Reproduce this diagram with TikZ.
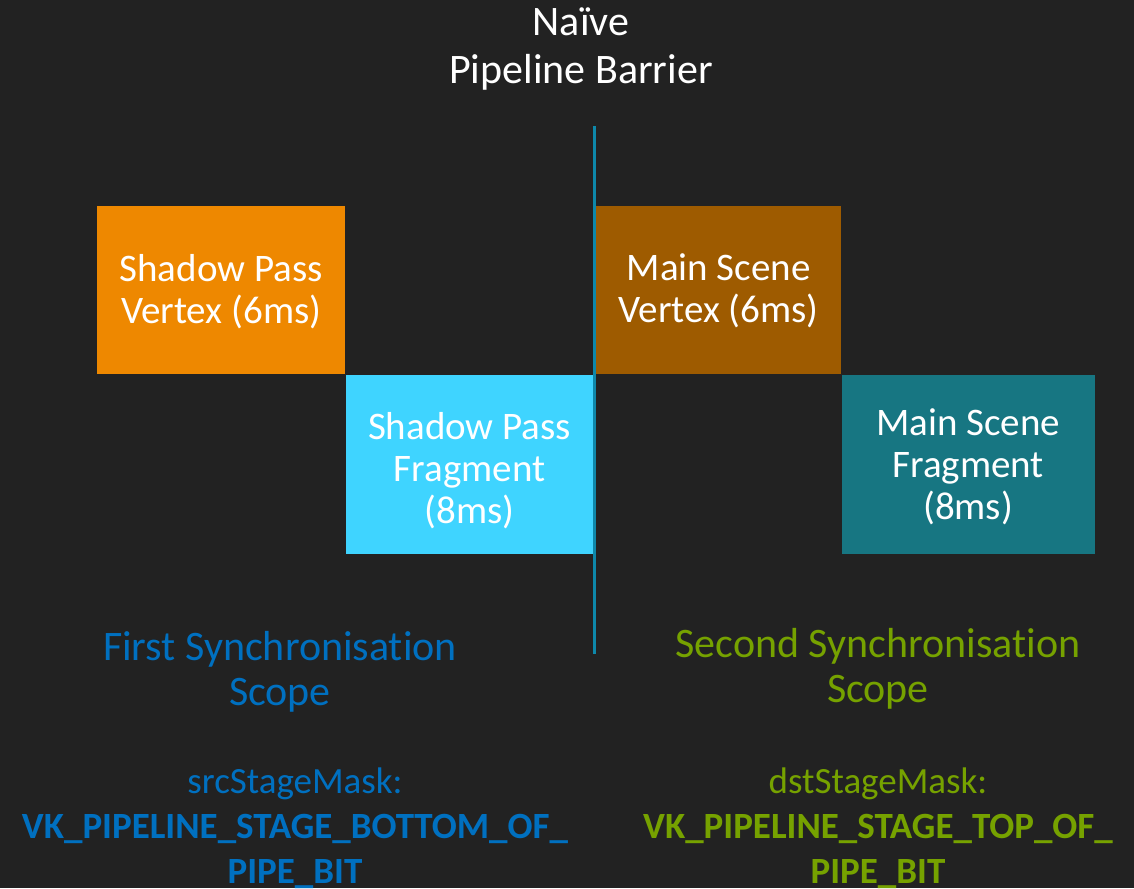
\documentclass[tikz,border=0pt]{standalone}
\usepackage{fontspec}
\setmainfont{Carlito}[Ligatures=NoCommon]
\usetikzlibrary{positioning}
\definecolor{bgdark}{HTML}{222222}
\definecolor{vertorange}{HTML}{EE8800}
\definecolor{fragcyan}{HTML}{3FD4FF}
\definecolor{vertbrown}{HTML}{9E5B00}
\definecolor{fragteal}{HTML}{177682}
\definecolor{barrierblue}{HTML}{0E88AA}
\definecolor{scopeblue}{HTML}{0070C0}
\definecolor{scopegreen}{HTML}{76A200}

\begin{document}
\begin{tikzpicture}[
    x=1pt, y=-1pt,
    % Pipeline stage boxes
    stage/.style={
        rectangle, inner sep=0pt
    },
    % Text inside the stage boxes
    stagetext/.style={
        align=center, text=white, inner sep=0pt,
        font=\fontsize{39}{42}\selectfont
    },
    % Title text
    title/.style={
        align=center, text=white, inner sep=0pt,
        font=\fontsize{42}{48}\selectfont
    },
    % Scope captions
    scopetext/.style={
        align=center, inner sep=0pt,
        font=\fontsize{42}{45}\selectfont
    },
    % Stage mask captions
    masktext/.style={
        align=center, inner sep=0pt,
        font=\fontsize{37}{45}\selectfont
    },
    % Barrier line
    barrier/.style={draw=barrierblue, line width=3pt}
]

% Background
\fill[bgdark] (0,0) rectangle (1134,888);
\clip (0,0) rectangle (1134,888);

% Title
\node[title] (title) at (581,49) {Naïve\\Pipeline Barrier};

% Shadow pass stages
\node[stage, fill=vertorange, minimum width=248pt, minimum height=168pt,
      anchor=north west] (shadowvert) at (97,206) {};
\node[stage, fill=fragcyan, minimum width=248pt, minimum height=179pt,
      anchor=north west] (shadowfrag) at (shadowvert.south east) {};
\node[stagetext] (shadowverttext) at ([yshift=-1pt]shadowvert.center) {Shadow Pass\\Vertex (6ms)};
\node[stagetext] (shadowfragtext) at ([yshift=-7pt]shadowfrag.center) {Shadow Pass\\Fragment\\(8ms)};

% Main scene stages
\node[stage, fill=vertbrown, minimum width=245pt, minimum height=168pt,
      anchor=north west] (mainvert) at (596,206) {};
\node[stage, fill=fragteal, minimum width=253pt, minimum height=179pt,
      anchor=north west] (mainfrag) at (mainvert.south east) {};
\node[stagetext] (mainverttext) at ([yshift=-1pt]mainvert.center) {Main Scene\\Vertex (6ms)};
\node[stagetext] (mainfragtext) at ([yshift=-3pt]mainfrag.center) {Main Scene\\Fragment\\(8ms)};

% Barrier
\coordinate (bartop) at (594,126);
\coordinate (barbot) at (594,654);
\draw[barrier] (bartop) -- (barbot);

% Synchronisation scopes
\node[scopetext, text=scopeblue] (firstscope) at (280,672) {First Synchronisation\\Scope};
\node[scopetext, text=scopegreen] (secondscope) at (878,669) {Second Synchronisation\\Scope};

% Stage masks
\node[masktext, text=scopeblue] (srcmask) at (295,828)
    {srcStageMask:\\\textbf{VK\_PIPELINE\_STAGE\_BOTTOM\_OF\_}\\\textbf{PIPE\_BIT}};
\node[masktext, text=scopegreen] (dstmask) at (878,828)
    {dstStageMask:\\\textbf{VK\_PIPELINE\_STAGE\_TOP\_OF\_}\\\textbf{PIPE\_BIT}};

\end{tikzpicture}
\end{document}
